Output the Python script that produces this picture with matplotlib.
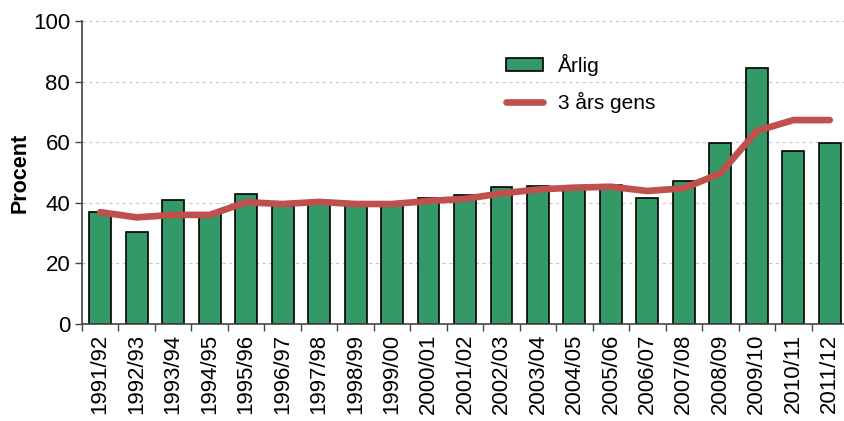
import numpy as np
import matplotlib.pyplot as plt
from matplotlib.ticker import FixedLocator

plt.rcParams["font.family"] = ["Liberation Sans", "DejaVu Sans"]

# ── data ──────────────────────────────────────────────────────────────────────
seasons = ["1991/92", "1992/93", "1993/94", "1994/95", "1995/96", "1996/97",
           "1997/98", "1998/99", "1999/00", "2000/01", "2001/02", "2002/03",
           "2003/04", "2004/05", "2005/06", "2006/07", "2007/08", "2008/09",
           "2009/10", "2010/11", "2011/12"]
annual = [37.0, 30.5, 40.8, 36.5, 42.9, 39.0, 40.0, 39.5, 39.5, 41.7, 42.6,
          45.2, 45.6, 45.0, 46.0, 41.6, 47.3, 59.7, 84.4, 57.1, 59.7]
avg3 = [36.9, 35.2, 36.0, 36.0, 40.2, 39.6, 40.3, 39.6, 39.6, 40.6, 41.3,
        43.1, 44.4, 45.0, 45.3, 43.9, 44.8, 49.7, 63.7, 67.3, 67.3]

GREEN = "#339966"
RED = "#C0504D"

fig = plt.figure(figsize=(8.45, 4.21), dpi=100)
ax = fig.add_axes([82 / 845, 97 / 421, 766 / 845, 303 / 421])

x = np.arange(len(seasons))
bars = ax.bar(x, annual, width=0.6, color=GREEN, edgecolor="black",
              linewidth=1.2, label="Årlig", zorder=2)
line, = ax.plot(x, avg3, color=RED, linewidth=4.8, solid_capstyle="round",
                label="3 års gens", zorder=3)

ax.set_xlim(-0.5, len(seasons) - 0.5)
ax.set_ylim(0, 100)
ax.set_yticks(range(0, 101, 20))
ax.yaxis.grid(True, linestyle=(0, (3, 3)), color="#c8c8c8", linewidth=0.8)
ax.set_axisbelow(True)

ax.set_xticks(x)
ax.set_xticklabels(seasons, rotation=90, fontsize=16)
ax.tick_params(axis="x", which="major", length=0, pad=7)
ax.xaxis.set_minor_locator(FixedLocator(np.arange(-0.5, len(seasons), 1.0)))
ax.tick_params(axis="x", which="minor", length=5, width=1, color="#444444")
ax.tick_params(axis="y", labelsize=16, length=5, width=1, color="#444444")

for side in ("top", "right"):
    ax.spines[side].set_visible(False)
for side in ("left", "bottom"):
    ax.spines[side].set_color("#444444")
    ax.spines[side].set_linewidth(1.2)

ax.set_ylabel("Procent", fontsize=15.5, fontweight="bold", labelpad=2)

ax.legend([bars, line], ["Årlig", "3 års gens"], loc="upper left",
          bbox_to_anchor=(0.529, 0.953), frameon=False, fontsize=15,
          handlelength=1.8, handleheight=0.55, handletextpad=0.7,
          labelspacing=0.75, borderpad=0.4)

fig.savefig("out.png", dpi=100)
